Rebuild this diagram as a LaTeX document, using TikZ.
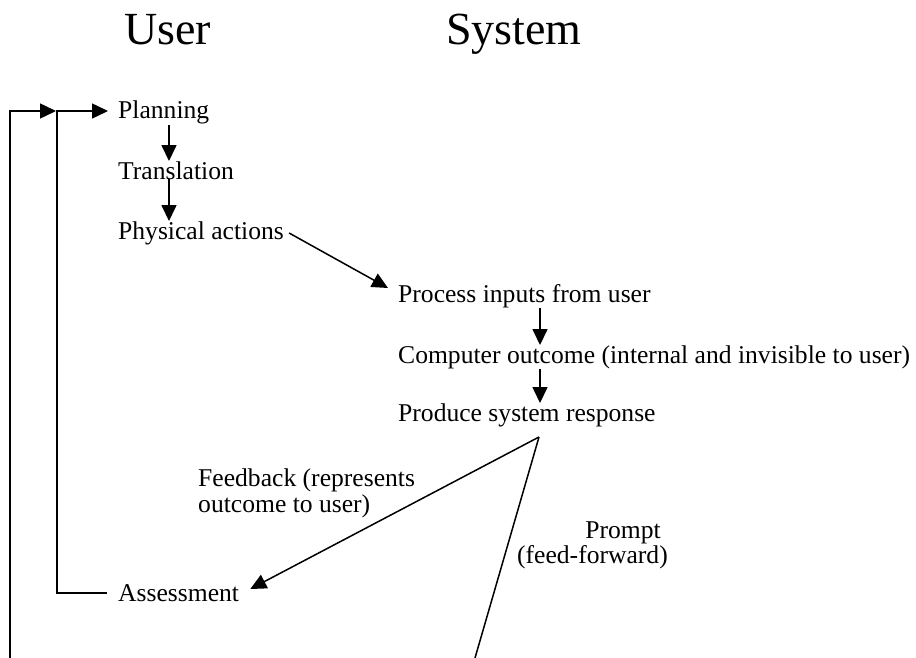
\documentclass[tikz,border=0pt]{standalone}
\usepackage{fontspec}
\setmainfont{Liberation Serif}
\usetikzlibrary{arrows.meta,calc}
\begin{document}
\begin{tikzpicture}[x=1pt,y=-1pt,
  lbl/.style={inner sep=0pt, anchor=base west, font=\fontsize{25.6}{26}\selectfont},
  head/.style={inner sep=0pt, anchor=base west, font=\fontsize{46}{50}\selectfont},
  conn/.style={line width=1.5pt},
  arr/.style={conn, -{Triangle[length=16pt,width=15pt]}}]
\useasboundingbox (0,0) rectangle (916,658);
% headers
\node[head] (user) at (124,45) {User};
\node[head] (sys) at (446,45) {System};
% user column
\node[lbl] (plan) at (118,119) {Planning};
\node[lbl] (trans) at (118,179) {Translation};
\node[lbl] (phys) at (118,239) {Physical actions};
\node[lbl] (assess) at (118,601) {Assessment};
% system column
\node[lbl] (proc) at (398,302) {Process inputs from user};
\node[lbl] (comp) at (398,363) {Computer outcome (internal and invisible to user)};
\node[lbl] (prod) at (398,421) {Produce system response};
% connector labels
\node[lbl, anchor=north west, align=left] (fb) at (198,468.5) {Feedback (represents\\outcome to user)};
\node[lbl, anchor=base east] (pr1) at (661,538) {Prompt};
\node[lbl, anchor=base east] (pr2) at (668,563) {(feed-forward)};
% coordinates
\coordinate (apex) at (539,437);
\coordinate (pbot) at (475,658);
\coordinate (obot) at (10,658);
% vertical arrows
\draw[arr] ([xshift=51pt]plan.south west) -- ([xshift=51pt]plan.south west |- trans.north);
\draw[arr] ([xshift=51pt]trans.south west) -- ([xshift=51pt]trans.south west |- phys.north);
\draw[arr] ([xshift=142pt]proc.south west) -- ([xshift=142pt]proc.south west |- comp.north);
\draw[arr] ([xshift=142pt]comp.south west) -- ([xshift=142pt]comp.south west |- prod.north);
% physical actions to process
\draw[arr] ([xshift=5pt,yshift=6pt]phys.base east) -- ([xshift=-10pt,yshift=14pt]proc.base west);
% feedback and prompt
\draw[arr] (apex) -- ([xshift=11pt,yshift=12pt]assess.base east);
\draw[conn] (apex) -- (pbot);
% loops
\draw[arr] ([xshift=-11pt,yshift=8pt]assess.base west) -| ([xshift=-61pt,yshift=8pt]plan.base west) -- ([xshift=-10pt,yshift=8pt]plan.base west);
\draw[arr] (obot) |- ([xshift=-62pt,yshift=8pt]plan.base west);
\end{tikzpicture}
\end{document}
